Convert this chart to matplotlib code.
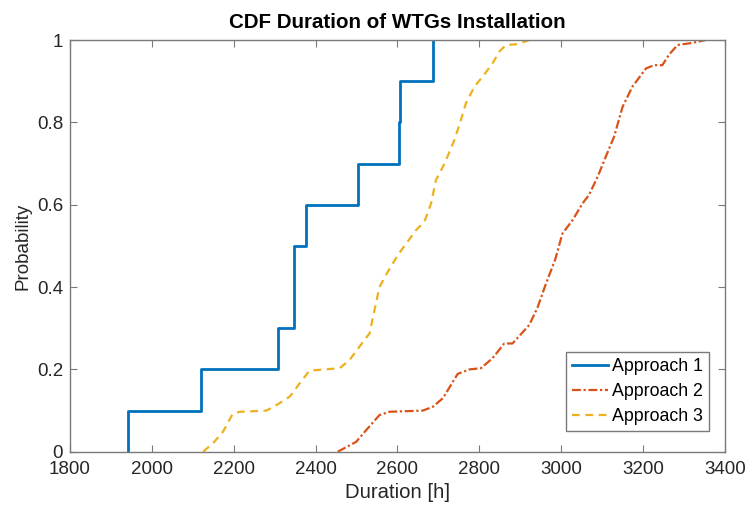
import numpy as np
import matplotlib as mpl
mpl.use('Agg')
import matplotlib.pyplot as plt

plt.rcParams['font.family'] = ['Liberation Sans', 'DejaVu Sans']

# Approach 1: ten sample durations (empirical CDF steps)
dur1 = [1941, 2119, 2308, 2346, 2347, 2377, 2504, 2604, 2607, 2687]

# Approach 2: CDF curve
dur2 = [2454, 2499, 2524, 2556, 2580, 2662, 2686, 2711, 2747, 2776, 2804, 2832,
        2861, 2881, 2922, 2942, 2963, 2985, 3003, 3028, 3052, 3068, 3089, 3109,
        3129, 3150, 3174, 3207, 3227, 3247, 3263, 3284, 3320, 3353]
prob2 = [0, 0.024, 0.053, 0.089, 0.097, 0.10, 0.109, 0.13, 0.189, 0.2, 0.203,
         0.227, 0.263, 0.263, 0.308, 0.35, 0.409, 0.466, 0.53, 0.563, 0.603,
         0.624, 0.668, 0.717, 0.765, 0.838, 0.887, 0.931, 0.939, 0.939, 0.964,
         0.988, 0.993, 1.0]

# Approach 3
dur3 = [2125, 2149, 2174, 2198, 2215, 2280, 2304, 2337, 2361, 2385, 2459, 2483,
        2507, 2532, 2544, 2556, 2578, 2601, 2645, 2666, 2682, 2694, 2715, 2739,
        2755, 2767, 2788, 2808, 2832, 2849, 2865, 2893, 2922]
prob3 = [0, 0.02, 0.049, 0.093, 0.097, 0.10, 0.113, 0.134, 0.166, 0.197, 0.203,
         0.223, 0.255, 0.288, 0.345, 0.4, 0.44, 0.478, 0.538, 0.559, 0.603, 0.66,
         0.70, 0.757, 0.806, 0.846, 0.887, 0.911, 0.943, 0.972, 0.988, 0.99, 1.0]

labels = ['Approach 1', 'Approach 2', 'Approach 3']
colors = ['#0072BD', '#D95319', '#EDB120']

fig = plt.figure(figsize=(7.47, 5.07), dpi=100)
ax = fig.add_axes([0.0937, 0.109, 0.8768, 0.812])

n1 = len(dur1)
y1 = np.arange(1, n1 + 1) / n1
ax.step(np.r_[dur1[0], dur1], np.r_[0, y1], where='post',
        color=colors[0], lw=2.0, label=labels[0])
ax.plot(dur2, prob2, color=colors[1], lw=1.6, ls=(0, (4, 1.2, 1, 1.2)),
        label=labels[1])
ax.plot(dur3, prob3, color=colors[2], lw=1.6, ls=(0, (3.5, 2.5)),
        label=labels[2])

ax.set_xlim(1800, 3400)
ax.set_ylim(0, 1)
ax.set_xticks(np.arange(1800, 3401, 200))
ax.set_yticks([0, 0.2, 0.4, 0.6, 0.8, 1])
ax.set_yticklabels(['0', '0.2', '0.4', '0.6', '0.8', '1'])

axis_col = '#7a7a7a'
text_col = '#262626'
for s in ax.spines.values():
    s.set_color(axis_col)
    s.set_linewidth(1.0)
ax.tick_params(direction='in', length=5, width=0.8, color=axis_col,
               top=True, right=True, labelsize=13.5, labelcolor=text_col)
ax.tick_params(axis='x', pad=7)
ax.tick_params(axis='y', pad=5)

ax.set_xlabel('Duration [h]', fontsize=14.6, color=text_col, labelpad=3)
ax.set_ylabel('Probability', fontsize=13.5, color=text_col, labelpad=4)
ax.set_title('CDF Duration of WTGs Installation', fontsize=14.8,
             fontweight='bold', color='black', pad=9)

leg = ax.legend(loc='lower right', bbox_to_anchor=(0.976, 0.05),
                fontsize=12.8, fancybox=False, edgecolor=axis_col,
                framealpha=1, handlelength=2.0, borderaxespad=0,
                labelspacing=0.45, handletextpad=0.25, borderpad=0.35)
leg.get_frame().set_linewidth(1.0)
for t in leg.get_texts():
    t.set_color('black')

fig.savefig('out.png', dpi=100)
